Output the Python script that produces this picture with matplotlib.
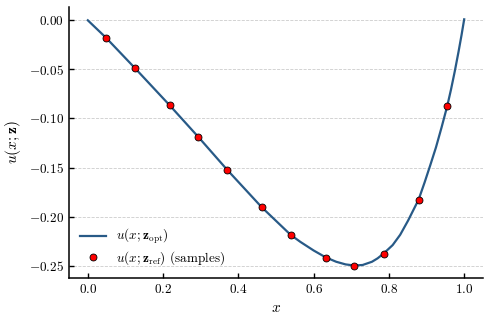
import numpy as np
import matplotlib
matplotlib.use('Agg')
import matplotlib.pyplot as plt

# Estilo tipo LaTeX
plt.rcParams['font.family'] = 'serif'
plt.rcParams['font.serif'] = ['cmr10', 'DejaVu Serif']
plt.rcParams['mathtext.fontset'] = 'cm'
plt.rcParams['axes.formatter.use_mathtext'] = True
plt.rcParams['axes.unicode_minus'] = True

# Amostras de referencia
x_amostras = [0.048, 0.125, 0.2175, 0.294, 0.3705, 0.462, 0.539, 0.632, 0.708, 0.786, 0.879, 0.955]
u_amostras = [-0.0176, -0.0486, -0.0866, -0.119, -0.1524, -0.1904, -0.2186, -0.2425, -0.250, -0.2376, -0.1826, -0.0873]

# Curva otimizada
x_curva = [0.0, 0.048, 0.125, 0.2175, 0.294, 0.3705, 0.462, 0.539, 0.565, 0.60, 0.632, 0.66, 0.685,
           0.708, 0.73, 0.755, 0.77, 0.786, 0.81, 0.83, 0.851, 0.879, 0.895, 0.91, 0.925, 0.94,
           0.955, 0.965, 0.975, 0.985, 0.993, 1.0]
u_curva = [0.0, -0.0176, -0.0486, -0.0866, -0.119, -0.1524, -0.1904, -0.2186, -0.2258, -0.2345, -0.2415,
           -0.2460, -0.2487, -0.2498, -0.2493, -0.2460, -0.2425, -0.2376, -0.2290, -0.2185, -0.2040,
           -0.1826, -0.1650, -0.1475, -0.1295, -0.1090, -0.0873, -0.0705, -0.0520, -0.0320, -0.0150, 0.001]

fig = plt.figure(figsize=(4.91, 3.23), dpi=100)
ax = fig.add_axes([0.1405, 0.1393, 0.8432, 0.839])

ax.plot(x_curva, u_curva, color='#285a87', lw=1.6, label=r'$u(x;\mathbf{z}_{\rm opt})$', zorder=2)
ax.plot(x_amostras, u_amostras, 'o', color='red', mec='black', mew=0.6, ms=5,
        label=r'$u(x;\mathbf{z}_{\rm ref})$ (samples)', zorder=3)

ax.set_xlabel(r'$x$', fontsize=11)
ax.set_ylabel(r'$u(x;\mathbf{z})$', fontsize=11)
ax.set_xticks([0.0, 0.2, 0.4, 0.6, 0.8, 1.0])
ax.set_yticks([0.0, -0.05, -0.10, -0.15, -0.20, -0.25])
ax.tick_params(direction='in', labelsize=9.5, width=1.0)
ax.grid(axis='y', linestyle='--', color='#cccccc', lw=0.6)
for s in ['left', 'bottom']:
    ax.spines[s].set_linewidth(1.1)
ax.spines['top'].set_visible(False)
ax.spines['right'].set_visible(False)
ax.legend(loc='lower left', frameon=False, fontsize=9.5, labelspacing=0.25, borderaxespad=0.4)

fig.savefig('out.png', dpi=100)
